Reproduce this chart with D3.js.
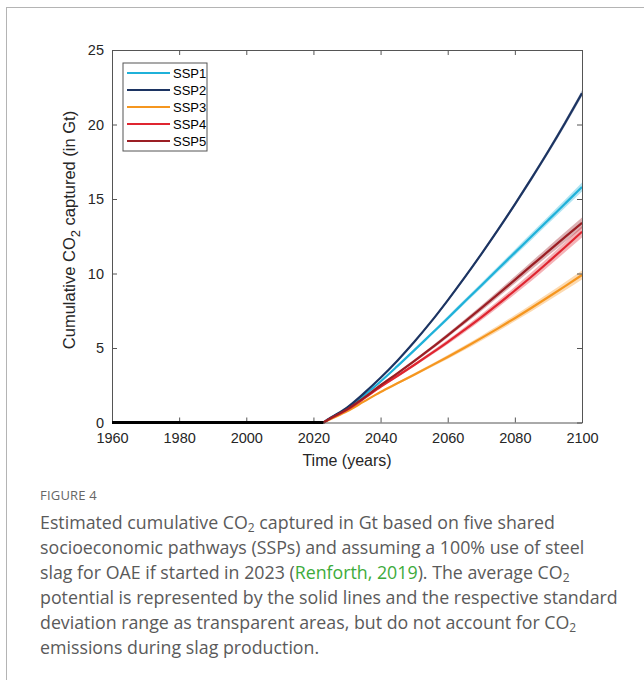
<!DOCTYPE html>
<html>
<head>
<meta charset="utf-8">
<script src="https://cdn.jsdelivr.net/npm/d3@7/dist/d3.min.js"></script>
<style>
  html, body { margin: 0; padding: 0; background: #fff; }
  svg { display: block; }
</style>
</head>
<body>
<svg id="fig" width="644" height="680"></svg>
<script>
// Cumulative CO2 captured by steel slag OAE under five SSPs
const years = [2023, 2025, 2030, 2035, 2040, 2045, 2050, 2055, 2060, 2065, 2070, 2075, 2080, 2085, 2090, 2095, 2100];
const historyYears = [1960, 2023];
const historyValues = [0, 0];

const seriesNames = ["SSP1", "SSP2", "SSP3", "SSP4", "SSP5"];
const seriesColors = ["#1fb1d9", "#1c3462", "#f5961f", "#df2530", "#9b1e24"];

const ssp1 = [0, 0.28, 0.95, 1.8, 2.75, 3.78, 4.84, 5.92, 7.0, 8.1, 9.2, 10.3, 11.4, 12.5, 13.6, 14.7, 15.8];
const ssp2 = [0, 0.3, 1.0, 1.95, 3.0, 4.15, 5.4, 6.75, 8.2, 9.72, 11.3, 12.94, 14.64, 16.4, 18.22, 20.12, 22.1];
const ssp3 = [0, 0.22, 0.75, 1.4, 2.05, 2.63, 3.21, 3.8, 4.4, 5.02, 5.66, 6.32, 7.0, 7.7, 8.42, 9.15, 9.9];
const ssp4 = [0, 0.26, 0.85, 1.6, 2.4, 3.12, 3.86, 4.62, 5.4, 6.22, 7.06, 7.94, 8.86, 9.8, 10.78, 11.78, 12.8];
const ssp5 = [0, 0.27, 0.88, 1.65, 2.5, 3.3, 4.12, 4.97, 5.85, 6.75, 7.67, 8.61, 9.57, 10.54, 11.5, 12.46, 13.4];

// standard deviation of each pathway
const sd1 = [0, 0.01, 0.02, 0.04, 0.05, 0.07, 0.09, 0.11, 0.13, 0.15, 0.17, 0.19, 0.21, 0.23, 0.25, 0.27, 0.3];
const sd2 = [0, 0.01, 0.01, 0.02, 0.03, 0.04, 0.05, 0.06, 0.08, 0.09, 0.1, 0.12, 0.13, 0.15, 0.16, 0.18, 0.2];
const sd3 = [0, 0.01, 0.02, 0.04, 0.06, 0.07, 0.09, 0.11, 0.13, 0.15, 0.17, 0.19, 0.21, 0.23, 0.25, 0.28, 0.3];
const sd4 = [0, 0.01, 0.02, 0.04, 0.06, 0.08, 0.1, 0.13, 0.15, 0.18, 0.2, 0.23, 0.25, 0.28, 0.31, 0.34, 0.38];
const sd5 = [0, 0.01, 0.02, 0.04, 0.06, 0.08, 0.1, 0.12, 0.14, 0.16, 0.19, 0.21, 0.24, 0.27, 0.3, 0.33, 0.36];

const seriesValues = [ssp1, ssp2, ssp3, ssp4, ssp5];
const seriesSd = [sd1, sd2, sd3, sd4, sd5];

const xTicks = [1960, 1980, 2000, 2020, 2040, 2060, 2080, 2100];
const yTicks = [0, 5, 10, 15, 20, 25];

const svg = d3.select("#fig");

// page frame
svg.append("rect")
  .attr("x", 6.5).attr("y", 7.5).attr("width", 700).attr("height", 700)
  .attr("fill", "none").attr("stroke", "#b4b4b4").attr("stroke-width", 1);

const plot = { left: 112, right: 582, top: 50, bottom: 422.5 };
const x = d3.scaleLinear().domain([1960, 2100]).range([plot.left, plot.right]);
const y = d3.scaleLinear().domain([0, 25]).range([plot.bottom, plot.top]);

const axisColor = "#555";
const tickFont = "Liberation Sans, Arial, sans-serif";

const g = svg.append("g");

// shaded standard-deviation bands
seriesValues.forEach((vals, i) => {
  const rows = years.map((yr, k) => ({ yr, v: vals[k], s: seriesSd[i][k] }));
  const area = d3.area()
    .x(d => x(d.yr))
    .y0(d => y(d.v - d.s))
    .y1(d => y(d.v + d.s))
    .curve(d3.curveMonotoneX);
  g.append("path").datum(rows)
    .attr("d", area)
    .attr("fill", seriesColors[i])
    .attr("fill-opacity", 0.35);
});

// mean lines
seriesValues.forEach((vals, i) => {
  const rows = years.map((yr, k) => ({ yr, v: vals[k] }));
  const line = d3.line().x(d => x(d.yr)).y(d => y(d.v)).curve(d3.curveMonotoneX);
  g.append("path").datum(rows)
    .attr("d", line)
    .attr("fill", "none")
    .attr("stroke", seriesColors[i])
    .attr("stroke-width", 2.2);
});

// axes (box with inward ticks)
const axB = d3.axisBottom(x).tickValues(xTicks).tickFormat(d3.format("d")).tickSizeInner(-5).tickSizeOuter(0).tickPadding(10);
const axT = d3.axisTop(x).tickValues(xTicks).tickFormat("").tickSizeInner(-5).tickSizeOuter(0);
const axL = d3.axisLeft(y).tickValues(yTicks).tickFormat(d3.format("d")).tickSizeInner(-5).tickSizeOuter(0).tickPadding(8);
const axR = d3.axisRight(y).tickValues(yTicks).tickFormat("").tickSizeInner(-5).tickSizeOuter(0);

function styleAxis(sel) {
  sel.attr("font-family", null).attr("font-size", null);
  sel.select(".domain").attr("stroke", axisColor).attr("stroke-width", 1);
  sel.selectAll(".tick line").attr("stroke", axisColor).attr("stroke-width", 1);
  sel.selectAll(".tick text").attr("fill", "#262626").style("font-family", tickFont).style("font-size", "14.5px");
}

svg.append("g").attr("transform", `translate(0,${plot.bottom})`).call(axB).call(styleAxis);
svg.append("g").attr("transform", `translate(0,${plot.top})`).call(axT).call(styleAxis);
svg.append("g").attr("transform", `translate(${plot.left},0)`).call(axL).call(styleAxis);
svg.append("g").attr("transform", `translate(${plot.right},0)`).call(axR).call(styleAxis);

// zero line before the start of capture
const hist = historyYears.map((yr, k) => ({ yr, v: historyValues[k] }));
svg.append("path").datum(hist)
  .attr("d", d3.line().x(d => x(d.yr)).y(d => y(d.v)))
  .attr("stroke", "#000").attr("stroke-width", 3).attr("fill", "none");

// axis titles
svg.append("text")
  .attr("x", (plot.left + plot.right) / 2).attr("y", 466)
  .attr("text-anchor", "middle")
  .style("font-family", tickFont).style("font-size", "16px").attr("fill", "#262626")
  .text("Time (years)");

const yl = svg.append("text")
  .attr("transform", `translate(75,230) rotate(-90)`)
  .attr("text-anchor", "middle")
  .style("font-family", tickFont).style("font-size", "16.5px").attr("fill", "#262626");
yl.append("tspan").text("Cumulative CO");
yl.append("tspan").attr("dy", 5).style("font-size", "13px").text("2");
yl.append("tspan").attr("dy", -5).text(" captured (in Gt)");

// legend
const leg = svg.append("g").attr("transform", "translate(123,63)");
leg.append("rect").attr("x", 0).attr("y", 0).attr("width", 84).attr("height", 88)
  .attr("fill", "#fff").attr("stroke", "#555").attr("stroke-width", 1);
seriesNames.forEach((name, i) => {
  const yy = 10 + i * 17;
  leg.append("line").attr("x1", 4).attr("x2", 47).attr("y1", yy).attr("y2", yy)
    .attr("stroke", seriesColors[i]).attr("stroke-width", 2.2);
  leg.append("text").attr("x", 50).attr("y", yy + 4.5)
    .style("font-family", tickFont).style("font-size", "13px").attr("fill", "#000")
    .text(name);
});

// caption
const capFont = "'Open Sans', 'Noto Sans', sans-serif";
svg.append("text").attr("x", 40).attr("y", 500)
  .style("font-family", capFont).style("font-size", "13px").attr("fill", "#666")
  .style("letter-spacing", "0.2px")
  .text("FIGURE 4");

const capLines = [
  [["Estimated cumulative CO"], ["2", "sub"], [" captured in Gt based on five shared"]],
  [["socioeconomic pathways (SSPs) and assuming a 100% use of steel"]],
  [["slag for OAE if started in 2023 ("], ["Renforth, 2019", "link"], ["). The average CO"], ["2", "sub"]],
  [["potential is represented by the solid lines and the respective standard"]],
  [["deviation range as transparent areas, but do not account for CO"], ["2", "sub"]],
  [["emissions during slag production."]]
];
capLines.forEach((parts, li) => {
  const t = svg.append("text").attr("x", 40).attr("y", 529 + li * 25)
    .style("font-family", capFont).style("font-size", "17.8px").attr("fill", "#5a5a5a");
  parts.forEach((p, k) => {
    const ts = t.append("tspan").text(p[0]);
    if (p[1] === "sub") {
      ts.attr("dy", 3).style("font-size", "12px");
    } else {
      if (k > 0 && parts[k - 1][1] === "sub") ts.attr("dy", -3);
      if (p[1] === "link") ts.attr("fill", "#3dab3b");
    }
  });
});
</script>
</body>
</html>
